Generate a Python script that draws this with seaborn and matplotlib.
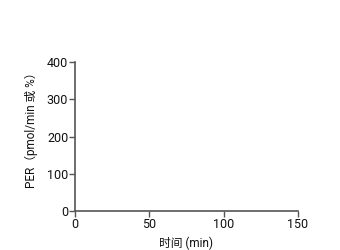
import matplotlib
matplotlib.use("Agg")
import matplotlib.pyplot as plt
import seaborn as sns
import pandas as pd

# Data (chart is empty: no series drawn)
time_min = []
per_values = []
x_ticks = [0, 50, 100, 150]
y_ticks = [0, 100, 200, 300, 400]
x_label = "时间 (min)"
y_label = "PER（pmol/min 或 %）"

sns.set_theme(style="ticks")
plt.rcParams['font.family'] = ['Roboto', 'Noto Sans CJK SC', 'DejaVu Sans']

fig = plt.figure(figsize=(3.4, 2.5), dpi=100)
ax = fig.add_axes([0.221, 0.156, 0.655, 0.596])

df = pd.DataFrame({"time": pd.Series(time_min, dtype=float),
                   "per": pd.Series(per_values, dtype=float)})
if len(df):
    sns.lineplot(data=df, x="time", y="per", ax=ax)

ax.set_xlim(0, 150)
ax.set_ylim(0, 400)
ax.set_xticks(x_ticks)
ax.set_yticks(y_ticks)
ax.set_xticklabels([str(v) for v in x_ticks])
ax.set_yticklabels([str(v) for v in y_ticks])

for s in ["top", "right"]:
    ax.spines[s].set_visible(False)
for s in ["left", "bottom"]:
    ax.spines[s].set_color("#555555")
    ax.spines[s].set_linewidth(1.2)

ax.tick_params(axis="both", colors="#555555", length=4, width=1.0,
               labelsize=9, labelcolor="#111111", pad=1)
ax.set_xlabel(x_label, fontsize=8.5, color="#111111", labelpad=4)
ax.set_ylabel(y_label, fontsize=8.5, color="#111111")
ax.yaxis.set_label_coords(-0.165, 0.56)

fig.savefig("out.png", dpi=100)
